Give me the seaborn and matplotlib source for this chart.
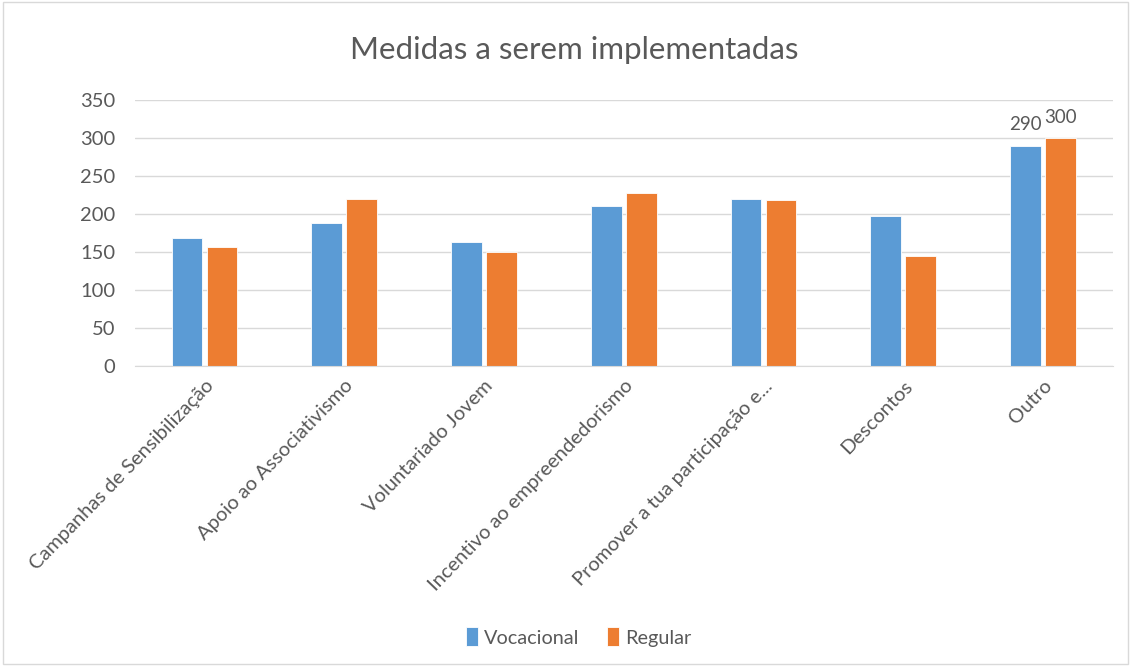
import pandas as pd
import matplotlib
matplotlib.use("Agg")
import matplotlib.pyplot as plt
import seaborn as sns
from matplotlib.patches import Rectangle

categories = ["Campanhas de Sensibilização", "Apoio ao Associativismo", "Voluntariado Jovem",
              "Incentivo ao empreendedorismo", "Promover a tua participação e...",
              "Descontos", "Outro"]
vocacional = [168, 188, 163, 210, 220, 198, 290]
regular = [156, 220, 150, 227, 218, 145, 300]
series = ["Vocacional", "Regular"]
colors = ["#5B9BD5", "#ED7D31"]

df = pd.DataFrame({
    "Medida": categories * 2,
    "Grupo": [series[0]] * len(categories) + [series[1]] * len(categories),
    "Valor": vocacional + regular,
})

sns.set_style("white")
plt.rcParams["font.family"] = ["Lato", "DejaVu Sans"]
txt = "#595959"

fig = plt.figure(figsize=(11.31, 6.66), dpi=100)
ax = fig.add_axes([0.119, 0.4505, 0.865, 0.3993])

sns.barplot(data=df, x="Medida", y="Valor", hue="Grupo", palette=colors, saturation=1,
            width=0.5, gap=0.12, ax=ax, edgecolor="white", linewidth=0.6)

ax.set_ylim(0, 350)
ax.set_yticks(range(0, 351, 50))
ax.yaxis.grid(True, color="#D9D9D9", linewidth=1)
ax.set_axisbelow(True)
for s in ["top", "right", "left"]:
    ax.spines[s].set_visible(False)
ax.spines["bottom"].set_color("#D9D9D9")
ax.tick_params(axis="both", length=0, labelsize=14.5, colors=txt)
ax.tick_params(axis="y", pad=14)
ax.set_xlabel("")
ax.set_ylabel("")
ax.set_xticks(range(len(categories)))
ax.set_xticklabels(categories, rotation=46, ha="right", rotation_mode="anchor")
ax.tick_params(axis="x", pad=8)

# data labels only on last category
for cont in ax.containers:
    labels = [""] * (len(categories) - 1) + ["%d" % cont.datavalues[-1]]
    ax.bar_label(cont, labels=labels, padding=9, fontsize=13.5, color=txt)

fig.text(574 / 1131, 1 - 50 / 666, "Medidas a serem implementadas", fontsize=22.5,
         color=txt, ha="center", va="center")

leg = ax.legend(loc="center", ncol=2, frameon=False, fontsize=14.3, handlelength=0.6,
                handleheight=1.1, handletextpad=0.3, columnspacing=1.4, labelcolor=txt)
leg.set_bbox_to_anchor((579 / 1131, 1 - 637 / 666), transform=fig.transFigure)

fig.patches.append(Rectangle((0.003, 0.003), 0.994, 0.994, transform=fig.transFigure,
                             fill=False, edgecolor="#D9D9D9", linewidth=1))

fig.savefig("out.png", dpi=100, facecolor="white")
